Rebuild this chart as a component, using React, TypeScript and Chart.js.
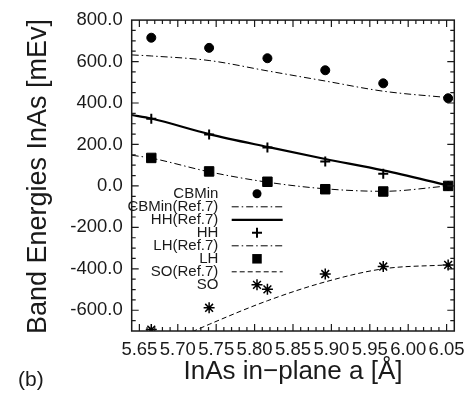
import React, { useEffect, useRef } from 'react';
import { Chart, registerables } from 'chart.js';

Chart.register(...registerables);

// Axis definitions
const xMin = 5.64;
const xMax = 6.06;
const yMin = -700;
const yMax = 800;
const xTicks = [5.65, 5.7, 5.75, 5.8, 5.85, 5.9, 5.95, 6.0, 6.05];
const yTicks = [-600, -400, -200, 0, 200, 400, 600, 800];

// Calculated points (markers)
const aPts = [5.6655, 5.7408, 5.8167, 5.892, 5.9675, 6.052];
const cbMin = [715, 666, 616, 558, 495, 423];
const hh = [324, 248, 185, 118, 59, 0];
const lh = [135, 70, 20, -16, -27, 0];
const so = [-693, -588, -499, -425, -389, -381];

// Reference curves (Ref.7)
const refA = [5.64, 5.6655, 5.7408, 5.8167, 5.892, 5.9675, 6.052];
const cbMinRef = [632, 627, 605, 555, 506, 457, 426];
const hhRef = [342, 325, 250, 188, 130, 75, 2];
const lhRef = [148, 134, 68, 18, -14, -26, 0];
const soRefA = [5.7, 5.7408, 5.8167, 5.892, 5.9675, 6.052];
const soRef = [-735, -668, -554, -463, -400, -381];

const legendLabels = ['CBMin', 'CBMin(Ref.7)', 'HH(Ref.7)', 'HH', 'LH(Ref.7)', 'LH', 'SO(Ref.7)', 'SO'];

const FONT = "'Liberation Sans', Arial, sans-serif";
const INK = '#1a1a1a';
const DASHDOT = [7, 3, 1.5, 3];
const DASHED = [5, 3];

const pts = (xs: number[], ys: number[]) => xs.map((x, i) => ({ x, y: ys[i] }));

function drawMarker(ctx: CanvasRenderingContext2D, kind: string, x: number, y: number) {
  ctx.save();
  ctx.fillStyle = '#000';
  ctx.strokeStyle = '#000';
  if (kind === 'circle') {
    ctx.beginPath();
    ctx.arc(x, y, 4.5, 0, Math.PI * 2);
    ctx.fill();
  } else if (kind === 'rect') {
    ctx.fillRect(x - 4.75, y - 4.75, 9.5, 9.5);
  } else if (kind === 'cross') {
    ctx.lineWidth = 2;
    ctx.beginPath();
    ctx.moveTo(x - 5, y);
    ctx.lineTo(x + 5, y);
    ctx.moveTo(x, y - 5);
    ctx.lineTo(x, y + 5);
    ctx.stroke();
  } else if (kind === 'star') {
    ctx.lineWidth = 1.5;
    ctx.beginPath();
    for (let k = 0; k < 4; k++) {
      const a = (k * Math.PI) / 4;
      ctx.moveTo(x - 5.5 * Math.cos(a), y - 5.5 * Math.sin(a));
      ctx.lineTo(x + 5.5 * Math.cos(a), y + 5.5 * Math.sin(a));
    }
    ctx.stroke();
  }
  ctx.restore();
}

const legendKinds = [
  { m: 'circle' },
  { dash: DASHDOT, w: 1 },
  { dash: [] as number[], w: 2.2 },
  { m: 'cross' },
  { dash: DASHDOT, w: 1 },
  { m: 'rect' },
  { dash: DASHED, w: 1 },
  { m: 'star' },
];

const framePlugin = {
  id: 'framePlugin',
  afterDraw(chart: any) {
    const ctx: CanvasRenderingContext2D = chart.ctx;
    const { left, right, top, bottom } = chart.chartArea;
    const xs = chart.scales.x;
    const ys = chart.scales.y;
    ctx.save();
    // frame
    ctx.strokeStyle = INK;
    ctx.lineWidth = 1.5;
    ctx.strokeRect(left, top, right - left, bottom - top);
    // inner ticks
    ctx.lineWidth = 1.2;
    ctx.beginPath();
    for (let v = yMin + 50; v < yMax; v += 50) {
      const p = ys.getPixelForValue(v);
      const len = v % 200 === 0 ? 7 : 4;
      ctx.moveTo(left, p);
      ctx.lineTo(left + len, p);
      ctx.moveTo(right, p);
      ctx.lineTo(right - len, p);
    }
    for (let i = Math.round(xMin * 100) + 1; i < Math.round(xMax * 100); i++) {
      const p = xs.getPixelForValue(i / 100);
      const len = i % 5 === 0 ? 7 : 4;
      ctx.moveTo(p, bottom);
      ctx.lineTo(p, bottom - len);
      ctx.moveTo(p, top);
      ctx.lineTo(p, top + len);
    }
    ctx.stroke();

    // legend
    ctx.font = `15px ${FONT}`;
    ctx.fillStyle = INK;
    ctx.textAlign = 'right';
    ctx.textBaseline = 'middle';
    legendLabels.forEach((lab, i) => {
      const y = top + 173.7 + i * 13;
      ctx.fillText(lab, left + 86.6, y);
      const k: any = legendKinds[i];
      if (k.m) {
        drawMarker(ctx, k.m, left + 125.3, y);
      } else {
        ctx.save();
        ctx.strokeStyle = '#000';
        ctx.lineWidth = k.w;
        ctx.setLineDash(k.dash);
        ctx.beginPath();
        ctx.moveTo(left + 100, y);
        ctx.lineTo(left + 151, y);
        ctx.stroke();
        ctx.restore();
      }
    });

    // axis titles
    ctx.fillStyle = INK;
    ctx.font = `26px ${FONT}`;
    ctx.textAlign = 'center';
    ctx.textBaseline = 'alphabetic';
    ctx.fillText('InAs in\u2212plane a [\u00C5]', (left + right) / 2, 379);
    ctx.save();
    ctx.font = `27px ${FONT}`;
    ctx.translate(46, 176.5);
    ctx.rotate(-Math.PI / 2);
    ctx.fillText('Band Energies InAs [mEv]', 0, 0);
    ctx.restore();
    ctx.font = `21px ${FONT}`;
    ctx.textAlign = 'left';
    ctx.fillText('(b)', 18, 385.5);
    ctx.restore();
  },
};

export default function App() {
  const ref = useRef<HTMLCanvasElement>(null);
  useEffect(() => {
    const markerBase = { showLine: false, borderColor: '#000', backgroundColor: '#000' };
    const lineBase = {
      showLine: true,
      pointRadius: 0,
      pointHoverRadius: 0,
      borderColor: '#000',
      backgroundColor: '#000',
      borderWidth: 1,
      cubicInterpolationMode: 'monotone' as const,
    };
    const chart = new Chart(ref.current!, {
      type: 'scatter',
      data: {
        datasets: [
          { ...markerBase, label: 'CBMin', data: pts(aPts, cbMin), pointStyle: 'circle', pointRadius: 4.5 },
          { ...markerBase, label: 'HH', data: pts(aPts, hh), pointStyle: 'cross', pointRadius: 5, borderWidth: 2 },
          { ...markerBase, label: 'LH', data: pts(aPts, lh), pointStyle: 'rect', pointRadius: 6.7 },
          { ...markerBase, label: 'SO', data: pts(aPts, so), pointStyle: 'star', pointRadius: 5.5, borderWidth: 1.5 },
          { ...lineBase, label: 'CBMin(Ref.7)', data: pts(refA, cbMinRef), borderDash: DASHDOT },
          { ...lineBase, label: 'HH(Ref.7)', data: pts(refA, hhRef), borderWidth: 2.2 },
          { ...lineBase, label: 'LH(Ref.7)', data: pts(refA, lhRef), borderDash: DASHDOT },
          { ...lineBase, label: 'SO(Ref.7)', data: pts(soRefA, soRef), borderDash: DASHED },
        ] as any,
      },
      options: {
        animation: false,
        responsive: false,
        devicePixelRatio: 1,
        layout: { padding: { left: 0, top: 13, right: 16.3, bottom: 0 } },
        plugins: { legend: { display: false }, tooltip: { enabled: false } },
        scales: {
          x: {
            type: 'linear',
            min: xMin,
            max: xMax,
            grid: { display: false, drawTicks: false },
            border: { display: false },
            ticks: {
              padding: 8,
              color: INK,
              font: { family: FONT, size: 18.5 },
              maxRotation: 0,
              autoSkip: false,
              callback: (v: any) => Number(v).toFixed(2),
            },
            afterBuildTicks: (s: any) => {
              s.ticks = xTicks.map((value) => ({ value }));
            },
            afterFit: (s: any) => {
              s.height = 62;
            },
          },
          y: {
            type: 'linear',
            min: yMin,
            max: yMax,
            grid: { display: false, drawTicks: false },
            border: { display: false },
            ticks: {
              padding: 9,
              color: INK,
              font: { family: FONT, size: 18.5 },
              autoSkip: false,
              callback: (v: any) => Number(v).toFixed(1),
            },
            afterBuildTicks: (s: any) => {
              s.ticks = yTicks.map((value) => ({ value }));
            },
            afterFit: (s: any) => {
              s.width = 131.7;
            },
          },
        },
      },
      plugins: [framePlugin],
    });
    return () => chart.destroy();
  }, []);
  return (
    <div style={{ position: 'absolute', left: 0, top: 0, width: 473, height: 393, background: '#fff' }}>
      <canvas ref={ref} width={473} height={393} style={{ display: 'block' }} />
    </div>
  );
}
